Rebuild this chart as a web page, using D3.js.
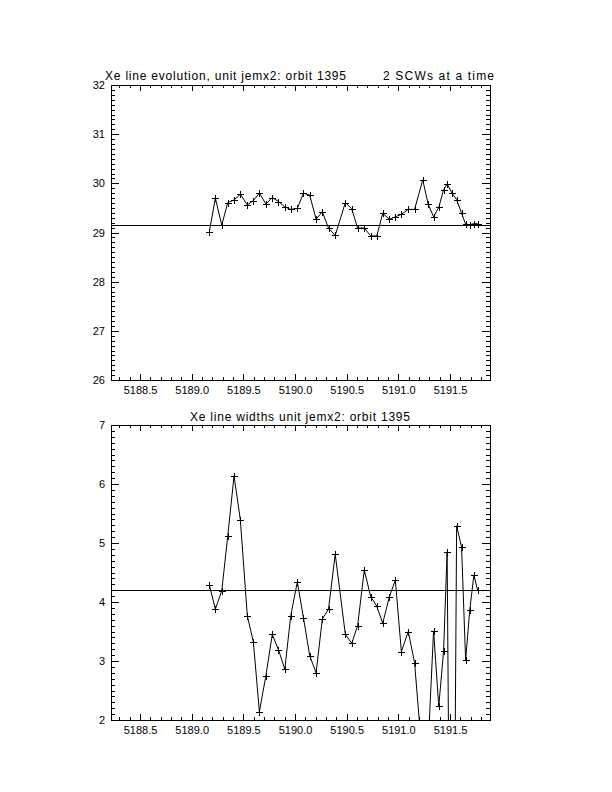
<!DOCTYPE html>
<html>
<head>
<meta charset="utf-8">
<script src="https://cdn.jsdelivr.net/npm/d3@7"></script>
<style>
  html, body { margin: 0; padding: 0; background: #fff; }
  svg { display: block; }
  text { font-family: "Liberation Sans", Arial, sans-serif; fill: #000; }
</style>
</head>
<body>
<script>
// ---------------- DATA ----------------
const times = [5189.171, 5189.229, 5189.291, 5189.349, 5189.410, 5189.471, 5189.538, 5189.597,
  5189.655, 5189.718, 5189.780, 5189.840, 5189.901, 5189.959, 5190.022, 5190.082, 5190.142,
  5190.204, 5190.264, 5190.324, 5190.389, 5190.487, 5190.549, 5190.606, 5190.670, 5190.733,
  5190.791, 5190.849, 5190.913, 5190.971, 5191.029, 5191.096, 5191.157, 5191.236, 5191.288,
  5191.341, 5191.391, 5191.438, 5191.472, 5191.520, 5191.564, 5191.612, 5191.651, 5191.691,
  5191.731, 5191.767];
const lineCentre = [29.02, 29.70, 29.15, 29.61, 29.66, 29.78, 29.56, 29.65, 29.80, 29.58, 29.71,
  29.63, 29.52, 29.47, 29.49, 29.80, 29.76, 29.27, 29.42, 29.09, 28.94, 29.61, 29.48, 29.09,
  29.09, 28.93, 28.93, 29.39, 29.27, 29.32, 29.37, 29.47, 29.47, 30.07, 29.58, 29.32, 29.51,
  29.87, 29.99, 29.80, 29.67, 29.39, 29.17, 29.16, 29.18, 29.18];
const lineWidth = [4.29, 3.88, 4.19, 5.12, 6.14, 5.39, 3.77, 3.32, 2.14, 2.75, 3.45, 3.19, 2.86,
  3.77, 4.34, 3.73, 3.09, 2.80, 3.71, 3.88, 4.81, 3.45, 3.30, 3.60, 4.54, 4.09, 3.93, 3.64,
  4.09, 4.37, 3.16, 3.50, 2.97, 1.28, 1.55, 3.51, 2.23, 3.17, 4.85, -6.1, 5.29, 4.93, 3.01,
  3.86, 4.46, 4.20];
const meanCentre = 29.15;
const meanWidth = 4.20;
const xDomain = [5188.219, 5191.887];
const xMajorTicks = [5188.5, 5189.0, 5189.5, 5190.0, 5190.5, 5191.0, 5191.5];
const topYDomain = [26, 32];
const topYTicks = [26, 27, 28, 29, 30, 31, 32];
const botYDomain = [2, 7];
const botYTicks = [2, 3, 4, 5, 6, 7];
const topTitleLeft = "Xe line evolution, unit jemx2: orbit 1395";
const topTitleRight = "2 SCWs at a time";
const botTitle = "Xe line widths unit jemx2: orbit 1395";

// ---------------- LAYOUT ----------------
const W = 612, H = 792;
const left = 111, right = 490;
const svg = d3.select("body").append("svg").attr("width", W).attr("height", H);
svg.append("rect").attr("width", W).attr("height", H).attr("fill", "#fff");

function minorTicks(domain, step) {
  const out = [];
  const start = Math.ceil(domain[0] / step - 1e-9);
  const end = Math.floor(domain[1] / step + 1e-9);
  for (let i = start; i <= end; i++) out.push(+(i * step).toFixed(6));
  return out;
}

function panel(id, top, bottom, yDomain, yTicks, values, meanVal) {
  const x = d3.scaleLinear().domain(xDomain).range([left, right]);
  const y = d3.scaleLinear().domain(yDomain).range([bottom, top]);
  const g = svg.append("g");
  const xLen = 6, yLen = 8;
  const xMinor = minorTicks(xDomain, 0.1);
  const yMinor = minorTicks(yDomain, 0.1);

  // bottom axis (ticks inward)
  g.append("g").attr("transform", `translate(0,${bottom})`)
    .call(d3.axisBottom(x).tickValues(xMinor).tickSizeInner(-xLen / 2).tickSizeOuter(0).tickFormat(""));
  g.append("g").attr("transform", `translate(0,${bottom})`)
    .call(d3.axisBottom(x).tickValues(xMajorTicks).tickSizeInner(-xLen).tickSizeOuter(0)
      .tickPadding(6).tickFormat(d3.format(".1f")));
  // top axis
  g.append("g").attr("transform", `translate(0,${top})`)
    .call(d3.axisTop(x).tickValues(xMinor).tickSizeInner(-xLen / 2).tickSizeOuter(0).tickFormat(""));
  g.append("g").attr("transform", `translate(0,${top})`)
    .call(d3.axisTop(x).tickValues(xMajorTicks).tickSizeInner(-xLen).tickSizeOuter(0).tickFormat(""));
  // left axis
  g.append("g").attr("transform", `translate(${left},0)`)
    .call(d3.axisLeft(y).tickValues(yMinor).tickSizeInner(-yLen / 2).tickSizeOuter(0).tickFormat(""));
  g.append("g").attr("transform", `translate(${left},0)`)
    .call(d3.axisLeft(y).tickValues(yTicks).tickSizeInner(-yLen).tickSizeOuter(0)
      .tickPadding(6).tickFormat(d3.format("d")));
  // right axis
  g.append("g").attr("transform", `translate(${right},0)`)
    .call(d3.axisRight(y).tickValues(yMinor).tickSizeInner(-yLen / 2).tickSizeOuter(0).tickFormat(""));
  g.append("g").attr("transform", `translate(${right},0)`)
    .call(d3.axisRight(y).tickValues(yTicks).tickSizeInner(-yLen).tickSizeOuter(0).tickFormat(""));

  g.selectAll(".domain").remove();
  g.selectAll(".tick line").attr("stroke", "#000").attr("shape-rendering", "crispEdges");
  g.selectAll(".tick text").attr("font-size", 11).attr("fill", "#000")
    .attr("font-family", '"Liberation Sans", Arial, sans-serif');

  // frame
  g.append("rect").attr("x", left).attr("y", top).attr("width", right - left).attr("height", bottom - top)
    .attr("fill", "none").attr("stroke", "#000").attr("shape-rendering", "crispEdges");

  // clip
  svg.append("clipPath").attr("id", id).append("rect")
    .attr("x", left).attr("y", top).attr("width", right - left).attr("height", bottom - top);
  const d = g.append("g").attr("clip-path", `url(#${id})`);

  // mean line
  d.append("line").attr("x1", left).attr("x2", right).attr("y1", y(meanVal)).attr("y2", y(meanVal))
    .attr("stroke", "#000").attr("shape-rendering", "crispEdges");

  const pts = times.map((t, i) => [t, values[i]]);
  d.append("path").datum(pts)
    .attr("d", d3.line().x(p => x(p[0])).y(p => y(p[1])))
    .attr("fill", "none").attr("stroke", "#000").attr("stroke-width", 1);

  const plus = d3.path();
  pts.forEach(p => {
    const px = Math.round(x(p[0])) + 0.5, py = Math.round(y(p[1])) + 0.5;
    plus.moveTo(px - 3.5, py); plus.lineTo(px + 3.5, py);
    plus.moveTo(px, py - 3.5); plus.lineTo(px, py + 3.5);
  });
  d.append("path").attr("d", plus.toString()).attr("stroke", "#000").attr("fill", "none");
}

panel("clipTop", 85, 380, topYDomain, topYTicks, lineCentre, meanCentre);
panel("clipBot", 425, 720, botYDomain, botYTicks, lineWidth, meanWidth);

// titles
svg.append("text").attr("x", 105).attr("y", 80).attr("font-size", 12)
  .attr("textLength", 241).attr("lengthAdjust", "spacing").text(topTitleLeft);
svg.append("text").attr("x", 383).attr("y", 80).attr("font-size", 12)
  .attr("textLength", 111).attr("lengthAdjust", "spacing").text(topTitleRight);
svg.append("text").attr("x", 190).attr("y", 421).attr("font-size", 12)
  .attr("textLength", 220).attr("lengthAdjust", "spacing").text(botTitle);
</script>
</body>
</html>
